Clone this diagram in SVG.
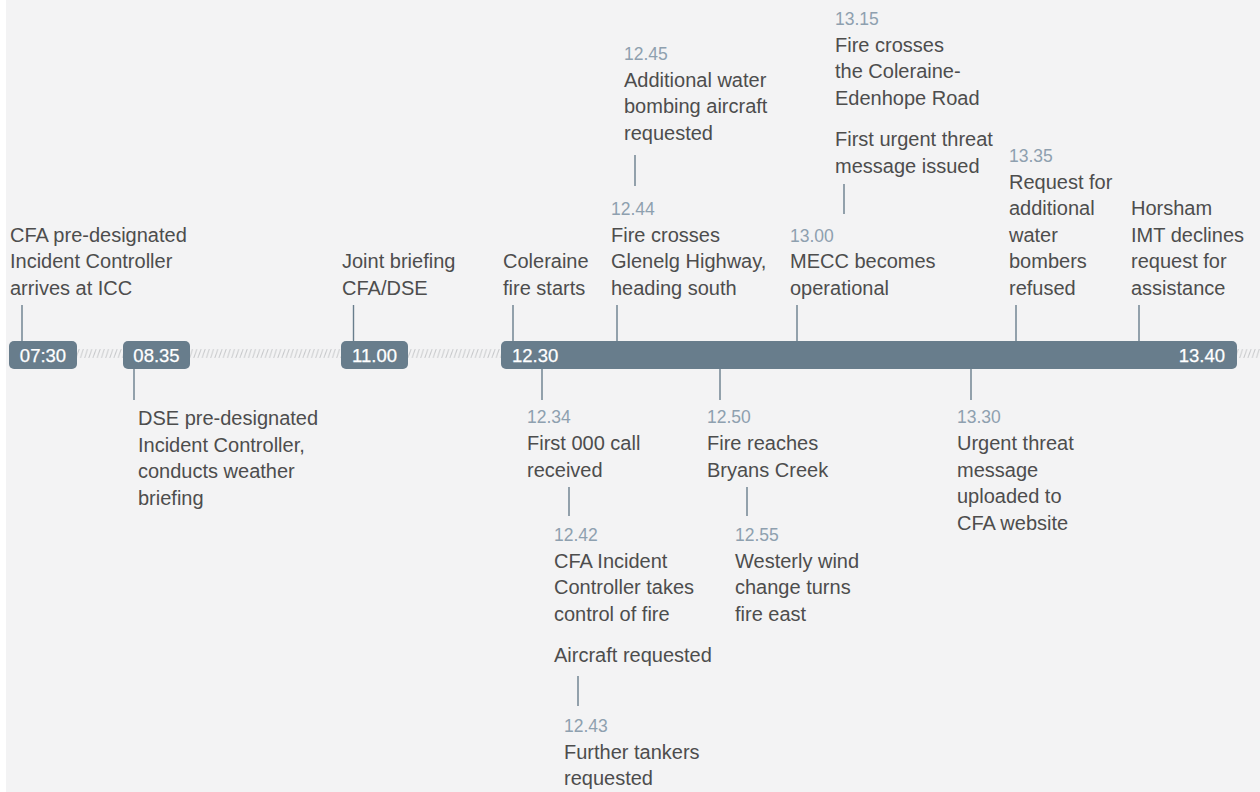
<svg xmlns="http://www.w3.org/2000/svg" width="1260" height="792" viewBox="0 0 1260 792">
<defs>
<pattern id="hatch" patternUnits="userSpaceOnUse" x="0" y="349" width="4.2" height="9">
<line x1="0.6" y1="9" x2="3.6" y2="0" stroke="#c6c8ca" stroke-width="0.9"/>
</pattern>
<style>
.t{font-family:"Liberation Sans",Arial,sans-serif;font-size:20px;fill:#4d4d4d}
.tm{font-family:"Liberation Sans",Arial,sans-serif;font-size:17.5px;fill:#8ea0af}
.pl{font-family:"Liberation Sans",Arial,sans-serif;font-size:18.5px;fill:#ffffff;stroke:#ffffff;stroke-width:0.25}
.bar{fill:#687d8c}
.c{stroke:#687d8c;stroke-width:1.4;fill:none}
</style>
</defs>
<rect x="0" y="0" width="1260" height="792" fill="#f3f3f4"/>
<rect x="0" y="0" width="6" height="792" fill="#ffffff"/>
<g id="hatching">
<rect x="77" y="349" width="46" height="9" fill="url(#hatch)"/>
<rect x="190" y="349" width="151" height="9" fill="url(#hatch)"/>
<rect x="408" y="349" width="93" height="9" fill="url(#hatch)"/>
<rect x="1237" y="349" width="23" height="9" fill="url(#hatch)"/>
</g>
<g id="connectors">
<line class="c" x1="22" y1="305" x2="22" y2="341"/>
<line class="c" x1="353.5" y1="305" x2="353.5" y2="341"/>
<line class="c" x1="513" y1="305" x2="513" y2="341"/>
<line class="c" x1="617" y1="305" x2="617" y2="341"/>
<line class="c" x1="635" y1="155" x2="635" y2="186"/>
<line class="c" x1="797" y1="305" x2="797" y2="341"/>
<line class="c" x1="844" y1="184" x2="844" y2="214"/>
<line class="c" x1="1016" y1="305" x2="1016" y2="341"/>
<line class="c" x1="1139" y1="305" x2="1139" y2="341"/>
<line class="c" x1="134" y1="369" x2="134" y2="400"/>
<line class="c" x1="542" y1="369" x2="542" y2="400"/>
<line class="c" x1="569" y1="487" x2="569" y2="516"/>
<line class="c" x1="578" y1="676" x2="578" y2="706"/>
<line class="c" x1="720" y1="369" x2="720" y2="400"/>
<line class="c" x1="747" y1="487" x2="747" y2="516"/>
<line class="c" x1="971" y1="369" x2="971" y2="400"/>
</g>
<g id="pill-0730"><rect class="bar" x="9" y="341" width="68" height="28" rx="5"/><text class="pl" x="43" y="362" text-anchor="middle">07:30</text></g>
<g id="pill-0835"><rect class="bar" x="123" y="341" width="67" height="28" rx="5"/><text class="pl" x="156.5" y="362" text-anchor="middle">08.35</text></g>
<g id="pill-1100"><rect class="bar" x="341" y="341" width="67" height="28" rx="5"/><text class="pl" x="374.5" y="362" text-anchor="middle">11.00</text></g>
<g id="bar-main"><rect class="bar" x="501" y="341" width="736" height="28" rx="5"/><text class="pl" x="512" y="362">12.30</text><text class="pl" x="1225" y="362" text-anchor="end">13.40</text></g>

<g id="ev-0730"><text class="t" x="10" y="241.5">CFA pre-designated</text><text class="t" x="10" y="268">Incident Controller</text><text class="t" x="10" y="294.5">arrives at ICC</text></g>
<g id="ev-1100"><text class="t" x="342" y="268">Joint briefing</text><text class="t" x="342" y="294.5">CFA/DSE</text></g>
<g id="ev-1230"><text class="t" x="503" y="268">Coleraine</text><text class="t" x="503" y="294.5">fire starts</text></g>
<g id="ev-1244"><text class="tm" x="611" y="215">12.44</text><text class="t" x="611" y="241.5">Fire crosses</text><text class="t" x="611" y="268">Glenelg Highway,</text><text class="t" x="611" y="294.5">heading south</text></g>
<g id="ev-1245"><text class="tm" x="624" y="60">12.45</text><text class="t" x="624" y="86.5">Additional water</text><text class="t" x="624" y="113">bombing aircraft</text><text class="t" x="624" y="139.5">requested</text></g>
<g id="ev-1300"><text class="tm" x="790" y="241.5">13.00</text><text class="t" x="790" y="268">MECC becomes</text><text class="t" x="790" y="294.5">operational</text></g>
<g id="ev-1315"><text class="tm" x="835" y="25">13.15</text><text class="t" x="835" y="51.5">Fire crosses</text><text class="t" x="835" y="78">the Coleraine-</text><text class="t" x="835" y="104.5">Edenhope Road</text><text class="t" x="835" y="146">First urgent threat</text><text class="t" x="835" y="172.5">message issued</text></g>
<g id="ev-1335"><text class="tm" x="1009" y="162">13.35</text><text class="t" x="1009" y="188.5">Request for</text><text class="t" x="1009" y="215">additional</text><text class="t" x="1009" y="241.5">water</text><text class="t" x="1009" y="268">bombers</text><text class="t" x="1009" y="294.5">refused</text></g>
<g id="ev-horsham"><text class="t" x="1131" y="215">Horsham</text><text class="t" x="1131" y="241.5">IMT declines</text><text class="t" x="1131" y="268">request for</text><text class="t" x="1131" y="294.5">assistance</text></g>

<g id="ev-0835"><text class="t" x="138" y="425">DSE pre-designated</text><text class="t" x="138" y="451.5">Incident Controller,</text><text class="t" x="138" y="478">conducts weather</text><text class="t" x="138" y="504.5">briefing</text></g>
<g id="ev-1234"><text class="tm" x="527" y="423">12.34</text><text class="t" x="527" y="450">First 000 call</text><text class="t" x="527" y="476.5">received</text></g>
<g id="ev-1242"><text class="tm" x="554" y="541">12.42</text><text class="t" x="554" y="567.5">CFA Incident</text><text class="t" x="554" y="594">Controller takes</text><text class="t" x="554" y="620.5">control of fire</text><text class="t" x="554" y="662">Aircraft requested</text></g>
<g id="ev-1243"><text class="tm" x="564" y="732">12.43</text><text class="t" x="564" y="758.5">Further tankers</text><text class="t" x="564" y="785">requested</text></g>
<g id="ev-1250"><text class="tm" x="707" y="423">12.50</text><text class="t" x="707" y="450">Fire reaches</text><text class="t" x="707" y="476.5">Bryans Creek</text></g>
<g id="ev-1255"><text class="tm" x="735" y="541">12.55</text><text class="t" x="735" y="567.5">Westerly wind</text><text class="t" x="735" y="594">change turns</text><text class="t" x="735" y="620.5">fire east</text></g>
<g id="ev-1330"><text class="tm" x="957" y="423">13.30</text><text class="t" x="957" y="450">Urgent threat</text><text class="t" x="957" y="476.5">message</text><text class="t" x="957" y="503">uploaded to</text><text class="t" x="957" y="529.5">CFA website</text></g>
</svg>
